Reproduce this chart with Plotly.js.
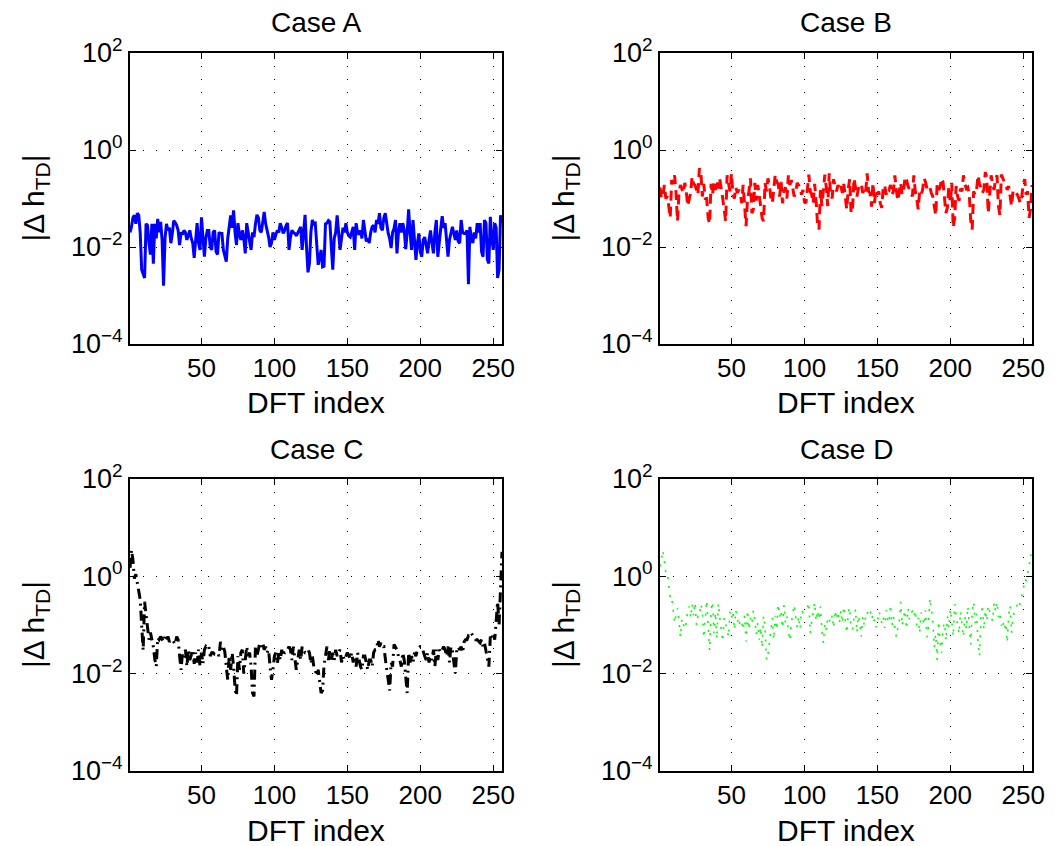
<!DOCTYPE html>
<html>
<head>
<meta charset="utf-8">
<script src="https://cdn.plot.ly/plotly-3.0.1.min.js"></script>
<style>
html,body{margin:0;padding:0;background:#fff;}
#chart{width:1055px;height:846px;}
</style>
</head>
<body>
<div id="chart"></div>
<script>
// ---- data (|Δ h_TD| per DFT index 1..256) ----
const panelTitles = ["Case A", "Case B", "Case C", "Case D"];
const xLabel = "DFT index";
const yLabel = "|Δ h<sub>TD</sub>|";
const xTickVals = [50, 100, 150, 200, 250];
const yTickVals = [1e-4, 1e-2, 1, 1e2];
const yTickText = ["10<sup>−4</sup>", "10<sup>−2</sup>", "10<sup>0</sup>", "10<sup>2</sup>"];

const caseA = [
0.02,0.026,0.04,0.045,0.03,0.05,0.045,0.02,0.0034,0.0028,0.0023,0.03,0.028,0.012,0.007,0.03,
0.0045,0.03,0.015,0.038,0.02,0.033,0.014,0.0016,0.015,0.03,0.022,0.025,0.012,0.019,0.035,0.032,
0.028,0.022,0.011,0.02,0.018,0.022,0.02,0.014,0.018,0.022,0.015,0.012,0.006,0.015,0.031,0.012,
0.0087,0.041,0.012,0.0063,0.015,0.022,0.022,0.01,0.0087,0.02,0.022,0.008,0.007,0.02,0.019,0.019,
0.0087,0.006,0.005,0.015,0.031,0.045,0.025,0.057,0.02,0.011,0.031,0.018,0.014,0.022,0.015,0.0074,
0.031,0.02,0.012,0.0087,0.02,0.016,0.03,0.046,0.04,0.022,0.02,0.035,0.053,0.03,0.022,0.016,
0.01,0.012,0.02,0.014,0.018,0.022,0.02,0.031,0.025,0.019,0.022,0.028,0.031,0.0087,0.016,0.022,
0.02,0.019,0.017,0.02,0.022,0.026,0.0087,0.02,0.046,0.01,0.003,0.0046,0.02,0.036,0.03,0.031,
0.012,0.0043,0.006,0.0087,0.0039,0.004,0.03,0.031,0.035,0.033,0.01,0.0034,0.015,0.02,0.045,0.02,
0.0087,0.015,0.025,0.02,0.031,0.02,0.017,0.016,0.02,0.026,0.0087,0.031,0.02,0.018,0.022,0.015,
0.036,0.02,0.013,0.015,0.012,0.02,0.026,0.028,0.02,0.036,0.03,0.05,0.025,0.022,0.04,0.05,
0.03,0.019,0.015,0.0095,0.02,0.024,0.036,0.0074,0.02,0.031,0.02,0.031,0.022,0.009,0.02,0.06,
0.02,0.0087,0.036,0.012,0.0054,0.012,0.019,0.008,0.0063,0.014,0.016,0.011,0.0074,0.014,0.022,0.012,
0.0074,0.02,0.036,0.0063,0.015,0.024,0.043,0.025,0.031,0.015,0.0063,0.014,0.02,0.026,0.019,0.014,
0.022,0.013,0.012,0.036,0.02,0.019,0.019,0.022,0.0017,0.026,0.015,0.012,0.02,0.015,0.031,0.02,
0.031,0.008,0.0063,0.036,0.031,0.0055,0.0046,0.042,0.015,0.0087,0.031,0.025,0.0023,0.0034,0.045,0.03
];

const caseB = [
0.17,0.1,0.12,0.19,0.1,0.11,0.07,0.04,0.24,0.2,0.3,0.13,0.034,0.13,0.19,0.15,
0.13,0.21,0.14,0.07,0.09,0.13,0.28,0.2,0.19,0.15,0.12,0.42,0.36,0.11,0.2,0.1,
0.1,0.04,0.03,0.2,0.12,0.22,0.15,0.24,0.16,0.25,0.17,0.1,0.06,0.034,0.3,0.2,
0.14,0.33,0.12,0.1,0.17,0.13,0.15,0.13,0.08,0.19,0.055,0.027,0.1,0.14,0.26,0.05,
0.06,0.21,0.09,0.19,0.12,0.06,0.04,0.034,0.21,0.14,0.26,0.19,0.1,0.081,0.17,0.31,
0.22,0.2,0.11,0.22,0.08,0.14,0.17,0.1,0.3,0.19,0.24,0.15,0.11,0.13,0.21,0.19,
0.17,0.12,0.15,0.085,0.08,0.15,0.31,0.14,0.12,0.08,0.2,0.09,0.03,0.023,0.15,0.07,
0.14,0.31,0.17,0.07,0.33,0.12,0.1,0.25,0.18,0.14,0.19,0.15,0.18,0.13,0.2,0.1,
0.06,0.15,0.25,0.05,0.064,0.26,0.18,0.11,0.16,0.19,0.2,0.13,0.165,0.14,0.33,0.14,
0.13,0.068,0.21,0.08,0.15,0.12,0.14,0.08,0.064,0.165,0.19,0.12,0.16,0.15,0.19,0.12,
0.14,0.3,0.15,0.09,0.14,0.21,0.12,0.14,0.28,0.24,0.18,0.15,0.12,0.11,0.3,0.14,
0.1,0.06,0.14,0.12,0.15,0.26,0.22,0.16,0.15,0.17,0.13,0.11,0.07,0.045,0.2,0.15,
0.17,0.26,0.22,0.1,0.05,0.065,0.18,0.08,0.21,0.025,0.04,0.18,0.11,0.09,0.16,0.14,
0.3,0.2,0.16,0.17,0.12,0.035,0.023,0.14,0.12,0.15,0.3,0.2,0.17,0.13,0.15,0.35,
0.26,0.05,0.11,0.3,0.2,0.15,0.25,0.3,0.07,0.045,0.31,0.25,0.22,0.2,0.15,0.18,
0.12,0.07,0.14,0.15,0.13,0.12,0.1,0.08,0.11,0.2,0.25,0.12,0.14,0.04,0.06,0.19
];

const caseC = [
1.5,3.5,2.2,0.9,1.1,0.8,0.5,0.33,0.07,0.03,0.3,0.15,0.09,0.05,0.07,0.05,
0.036,0.02,0.014,0.055,0.05,0.058,0.05,0.045,0.06,0.05,0.058,0.045,0.05,0.05,0.045,0.04,
0.058,0.05,0.023,0.012,0.027,0.022,0.031,0.014,0.031,0.019,0.024,0.031,0.016,0.027,0.017,0.031,
0.014,0.027,0.016,0.031,0.036,0.033,0.036,0.023,0.027,0.027,0.025,0.025,0.027,0.023,0.045,0.031,
0.036,0.028,0.014,0.0075,0.023,0.012,0.027,0.014,0.005,0.0035,0.023,0.012,0.027,0.031,0.01,0.019,
0.036,0.023,0.027,0.014,0.004,0.0034,0.036,0.023,0.031,0.043,0.036,0.043,0.031,0.036,0.027,0.031,
0.014,0.0075,0.012,0.023,0.027,0.016,0.027,0.019,0.031,0.023,0.027,0.027,0.031,0.036,0.031,0.019,
0.036,0.023,0.012,0.019,0.031,0.019,0.036,0.031,0.027,0.027,0.031,0.027,0.016,0.023,0.014,0.012,
0.0089,0.012,0.0075,0.004,0.0045,0.015,0.023,0.036,0.019,0.031,0.019,0.027,0.019,0.031,0.023,0.027,
0.031,0.017,0.023,0.019,0.023,0.027,0.024,0.02,0.027,0.017,0.023,0.014,0.027,0.019,0.014,0.012,
0.023,0.023,0.017,0.012,0.019,0.019,0.014,0.027,0.031,0.031,0.05,0.036,0.043,0.036,0.036,0.019,
0.012,0.0075,0.0045,0.017,0.014,0.04,0.036,0.031,0.023,0.019,0.014,0.027,0.019,0.0075,0.004,0.027,
0.017,0.023,0.017,0.027,0.023,0.031,0.033,0.036,0.036,0.027,0.023,0.019,0.027,0.017,0.023,0.019,
0.031,0.014,0.031,0.019,0.031,0.027,0.031,0.036,0.031,0.023,0.036,0.017,0.036,0.031,0.017,0.0102,
0.031,0.036,0.031,0.036,0.027,0.045,0.05,0.05,0.06,0.058,0.068,0.06,0.058,0.05,0.05,0.045,
0.043,0.05,0.036,0.043,0.031,0.023,0.014,0.058,0.05,0.068,0.05,0.12,0.3,0.1,1.0,3.2
];

const caseD = [
1.6,2.2,3.4,2.0,1.17,1.2,0.67,0.36,0.38,0.2,0.11,0.16,0.22,0.125,0.057,0.135,
0.1,0.083,0.11,0.21,0.24,0.14,0.27,0.155,0.29,0.1,0.15,0.147,0.27,0.19,0.055,0.15,
0.32,0.094,0.03,0.2,0.3,0.068,0.18,0.052,0.28,0.14,0.08,0.046,0.14,0.1,0.08,0.057,
0.19,0.14,0.19,0.08,0.2,0.14,0.094,0.13,0.11,0.08,0.155,0.046,0.2,0.08,0.14,0.105,
0.2,0.13,0.064,0.11,0.05,0.09,0.034,0.155,0.087,0.019,0.025,0.043,0.083,0.14,0.05,0.155,
0.08,0.27,0.147,0.2,0.087,0.26,0.11,0.15,0.074,0.048,0.11,0.16,0.26,0.15,0.09,0.15,
0.083,0.2,0.18,0.19,0.2,0.22,0.29,0.068,0.12,0.2,0.29,0.12,0.2,0.13,0.24,0.074,
0.043,0.11,0.08,0.147,0.13,0.11,0.16,0.087,0.2,0.13,0.19,0.11,0.2,0.11,0.24,0.12,
0.068,0.18,0.23,0.09,0.08,0.147,0.21,0.07,0.155,0.11,0.058,0.15,0.097,0.15,0.19,0.147,
0.18,0.2,0.11,0.13,0.09,0.105,0.19,0.16,0.11,0.147,0.087,0.2,0.13,0.11,0.26,0.097,
0.15,0.08,0.057,0.087,0.12,0.3,0.097,0.147,0.2,0.083,0.22,0.13,0.18,0.19,0.147,0.2,
0.097,0.14,0.068,0.18,0.13,0.1,0.2,0.057,0.09,0.36,0.22,0.12,0.035,0.064,0.019,0.12,
0.048,0.027,0.087,0.11,0.048,0.15,0.087,0.21,0.12,0.058,0.27,0.15,0.1,0.066,0.19,0.1,
0.057,0.147,0.083,0.24,0.087,0.04,0.19,0.3,0.11,0.17,0.043,0.023,0.147,0.26,0.08,0.2,
0.12,0.25,0.19,0.155,0.12,0.29,0.19,0.3,0.147,0.18,0.097,0.125,0.08,0.11,0.043,0.16,
0.25,0.068,0.147,0.19,0.22,0.26,0.22,0.3,0.4,0.52,0.88,0.83,1.17,1.6,2.8,2.4
];

// ---- layout geometry (pixels in a 1055x846 figure) ----
const W = 1055, H = 846;
const FONT = "Liberation Sans, Arial, Helvetica, sans-serif";
const colsPx = [[130, 502], [660, 1032]];
const rowsPx = [[53, 344], [479, 771]];

const series = [
  {y: caseA, color: "#0000ff", dash: "solid", width: 3},
  {y: caseB, color: "#ff0000", dash: "10px,6px", width: 3},
  {y: caseC, color: "#000000", dash: "10px,5px,2px,5px", width: 3},
  {y: caseD, color: "#00ff00", dash: "2px,7px", width: 1.6}
];

const traces = [];
const layout = {
  width: W, height: H,
  margin: {l: 0, r: 0, t: 0, b: 0},
  paper_bgcolor: "#ffffff",
  plot_bgcolor: "#ffffff",
  showlegend: false,
  font: {family: FONT, color: "#000"},
  annotations: []
};

for (let i = 0; i < 4; i++) {
  const c = i % 2, r = Math.floor(i / 2);
  const xs = i === 0 ? "" : String(i + 1);
  const xd = [colsPx[c][0] / W, colsPx[c][1] / W];
  const yd = [1 - rowsPx[r][1] / H, 1 - rowsPx[r][0] / H];
  const s = series[i];
  traces.push({
    type: "scatter", mode: "lines",
    y: s.y, x0: 1, dx: 1,
    xaxis: "x" + xs, yaxis: "y" + xs,
    line: {color: s.color, width: s.width, dash: s.dash},
    hoverinfo: "skip"
  });
  layout["xaxis" + xs] = {
    domain: xd, anchor: "y" + xs,
    range: [1, 256],
    tickmode: "array", tickvals: xTickVals,
    ticks: "inside", ticklen: 6, tickwidth: 1, tickcolor: "#000",
    showline: true, linecolor: "#000", linewidth: 2, mirror: "ticks",
    showgrid: true, gridcolor: "#000", gridwidth: 1, griddash: "1px,12px",
    zeroline: false,
    tickfont: {family: FONT, size: 26, color: "#000"}
  };
  layout["yaxis" + xs] = {
    domain: yd, anchor: "x" + xs,
    type: "log", range: [-4, 2],
    tickmode: "array", tickvals: yTickVals, ticktext: yTickText,
    ticks: "inside", ticklen: 6, tickwidth: 1, tickcolor: "#000",
    showline: true, linecolor: "#000", linewidth: 2, mirror: "ticks",
    showgrid: true, gridcolor: "#000", gridwidth: 1, griddash: "1px,12px",
    zeroline: false,
    tickfont: {family: FONT, size: 27, color: "#000"}
  };
  const cx = (colsPx[c][0] + colsPx[c][1]) / 2;
  const cy = (rowsPx[r][0] + rowsPx[r][1]) / 2;
  // panel title
  layout.annotations.push({
    text: panelTitles[i], xref: "paper", yref: "paper",
    x: cx / W, y: 1 - (rowsPx[r][0] - 30) / H,
    xanchor: "center", yanchor: "middle", showarrow: false,
    font: {family: FONT, size: 28, color: "#000"}
  });
  // x label
  layout.annotations.push({
    text: xLabel, xref: "paper", yref: "paper",
    x: cx / W, y: 1 - (rowsPx[r][1] + 59) / H,
    xanchor: "center", yanchor: "middle", showarrow: false,
    font: {family: FONT, size: 30, color: "#000"}
  });
  // y label
  layout.annotations.push({
    text: yLabel, xref: "paper", yref: "paper",
    x: (colsPx[c][0] - 95) / W, y: 1 - cy / H,
    xanchor: "center", yanchor: "middle", showarrow: false, textangle: -90,
    font: {family: FONT, size: 30, color: "#000"}
  });
}

Plotly.newPlot("chart", traces, layout, {staticPlot: true, displayModeBar: false});
</script>
</body>
</html>
